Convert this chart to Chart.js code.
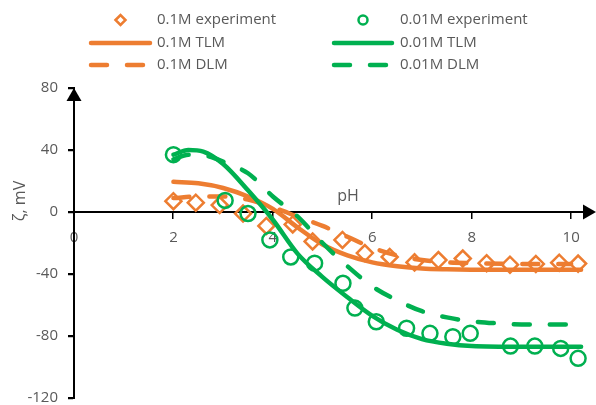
<!DOCTYPE html>
<html>
<head>
<meta charset="utf-8">
<script src="https://cdn.jsdelivr.net/npm/chart.js@4.4.1/dist/chart.umd.min.js"></script>
<style>
  html, body { margin: 0; padding: 0; background: #ffffff; }
  #wrap { width: 596px; height: 405px; }
</style>
</head>
<body>
<div id="wrap"><canvas id="c" width="596" height="405"></canvas></div>
<script>
// Zeta potential vs pH at two ionic strengths, measured points plus TLM / DLM model curves

// 0.1M electrolyte, measured
const pH_01_exp   = [2.0, 2.45, 2.93, 3.4, 3.87, 4.4, 4.8, 5.4, 5.85, 6.35, 6.85, 7.33, 7.82, 8.3, 8.77, 9.29, 9.76, 10.14];
const zeta_01_exp = [7, 6, 4.5, -1, -9, -8, -19, -18, -26.5, -29, -32.5, -31, -30, -33, -34, -33.5, -32.7, -33.3];

// 0.01M electrolyte, measured
const pH_001_exp   = [2.0, 3.04, 3.5, 3.94, 4.36, 4.84, 5.41, 5.65, 6.08, 6.69, 7.16, 7.62, 7.97, 8.78, 9.27, 9.79, 10.14];
const zeta_001_exp = [37, 7.5, -1, -18, -29, -33, -46, -62, -70.8, -75, -78.3, -80.5, -78.3, -86.5, -86.5, -88, -94.4];

// 0.1M triple-layer model
const pH_01_tlm   = [2, 2.5, 3, 3.5, 4, 4.5, 5, 5.5, 6, 6.5, 7, 7.5, 8, 9, 10.2];
const zeta_01_tlm = [19.5, 18.5, 15.5, 10, 2, -10, -21, -28, -32.5, -35, -36.5, -37, -37.2, -37.3, -37.3];

// 0.1M diffuse-layer model
const pH_01_dlm   = [2, 2.5, 3, 3.5, 4, 4.5, 5, 5.5, 6, 6.5, 7, 7.5, 8, 9, 10];
const zeta_01_dlm = [9, 10, 10, 8, 3, -3, -9, -16, -23, -28, -31, -32.5, -33, -33.5, -33.5];

// 0.01M triple-layer model
const pH_001_tlm   = [2, 2.3, 2.6, 3, 3.5, 4, 4.5, 5, 5.5, 6, 6.5, 7, 7.5, 8, 9, 10.2];
const zeta_001_tlm = [37, 40, 39, 31, 14, -5, -27, -42, -55, -67, -76, -82, -85, -86.5, -87, -87];

// 0.01M diffuse-layer model
const pH_001_dlm   = [2, 2.3, 2.7, 3.1, 3.5, 4, 4.5, 5, 5.5, 6, 6.5, 7, 7.5, 8, 8.5, 9, 10];
const zeta_001_dlm = [34, 37, 36, 31, 25, 10, -3, -20, -35, -48, -57, -64, -68, -70.5, -71.8, -72.5, -72.5];

const xTicks = [0, 2, 4, 6, 8, 10];
const yTicks = [-120, -80, -40, 0, 40, 80];

const ORANGE = '#ED7D31';
const GREEN = '#00B050';
const TEXT = '#595959';
const FONT = "'Open Sans', 'Noto Sans', sans-serif";
const CLEAR = 'rgba(0,0,0,0)';

const pts = (xs, ys) => xs.map((x, i) => ({ x: x, y: ys[i] }));

const markerSet = (label, xs, ys, color, style, r, order) => ({
  label, data: pts(xs, ys), showLine: false, order,
  pointStyle: style, pointRadius: r, pointHoverRadius: r,
  pointBorderWidth: 2.5, pointBorderColor: color, pointBackgroundColor: CLEAR,
  borderColor: color, backgroundColor: CLEAR
});

const lineSet = (label, xs, ys, color, dash, order) => ({
  label, data: pts(xs, ys), showLine: true, order,
  borderColor: color, backgroundColor: color, borderWidth: 4.5,
  borderDash: dash, borderCapStyle: 'round', borderJoinStyle: 'round',
  cubicInterpolationMode: 'monotone', pointRadius: 0, pointHoverRadius: 0, fill: false
});

const datasets = [
  markerSet('0.1M experiment', pH_01_exp, zeta_01_exp, ORANGE, 'rectRot', 8, 3),
  markerSet('0.01M experiment', pH_001_exp, zeta_001_exp, GREEN, 'circle', 7.5, 0),
  lineSet('0.1M TLM', pH_01_tlm, zeta_01_tlm, ORANGE, [], 4),
  lineSet('0.01M TLM', pH_001_tlm, zeta_001_tlm, GREEN, [], 1),
  lineSet('0.1M DLM', pH_01_dlm, zeta_01_dlm, ORANGE, [16, 20], 5),
  lineSet('0.01M DLM', pH_001_dlm, zeta_001_dlm, GREEN, [16, 20], 2)
];

// pH axis line, its tick marks and both arrow heads
const crossingAxes = {
  id: 'crossingAxes',
  beforeDatasetsDraw(chart) {
    const ctx = chart.ctx;
    const xs = chart.scales.x, ys = chart.scales.y, ca = chart.chartArea;
    const x0 = Math.round(xs.getPixelForValue(0));
    const y0 = Math.round(ys.getPixelForValue(0));
    const yTop = Math.round(ys.getPixelForValue(80));
    ctx.save();
    ctx.fillStyle = '#000';
    ctx.fillRect(ca.left, y0 - 1, ca.right - 8 - ca.left, 2);
    xTicks.forEach(v => {
      const px = Math.round(xs.getPixelForValue(v));
      ctx.fillRect(px - 1, y0, 1.5, 7);
    });
    ctx.beginPath();
    ctx.moveTo(ca.right, y0);
    ctx.lineTo(ca.right - 13, y0 - 7.5);
    ctx.lineTo(ca.right - 13, y0 + 7.5);
    ctx.closePath();
    ctx.fill();
    ctx.beginPath();
    ctx.moveTo(x0, yTop);
    ctx.lineTo(x0 - 7.5, yTop + 13);
    ctx.lineTo(x0 + 7.5, yTop + 13);
    ctx.closePath();
    ctx.fill();
    ctx.restore();
  }
};

// Zeta axis line drawn once more on top, then axis titles and the two-column legend
const overlay = {
  id: 'overlay',
  afterDraw(chart) {
    const ctx = chart.ctx;
    const xs = chart.scales.x, ys = chart.scales.y;
    const x0 = Math.round(xs.getPixelForValue(0));
    const yTop = Math.round(ys.getPixelForValue(80));
    const yBottom = Math.round(ys.getPixelForValue(-120));
    ctx.save();
    ctx.globalCompositeOperation = 'source-over';
    ctx.globalAlpha = 1;
    ctx.fillStyle = '#000000';
    ctx.fillRect(x0 - 1, yTop + 10, 2, yBottom - yTop - 10);
    yTicks.forEach(v => {
      const py = Math.round(ys.getPixelForValue(v));
      ctx.fillRect(x0 - 6, py - 1, 6, 2);
    });

    ctx.fillStyle = TEXT;
    ctx.font = '16px ' + FONT;
    ctx.textAlign = 'center';
    ctx.textBaseline = 'middle';
    ctx.fillText('pH', 348, 196);
    ctx.save();
    ctx.translate(20, 201);
    ctx.rotate(-Math.PI / 2);
    ctx.fillText('\u03B6, mV', 0, 0);
    ctx.restore();

    const cols = [{ x1: 89, x2: 152, tx: 157 }, { x1: 332, x2: 394, tx: 400 }];
    const rows = [20, 43, 65];
    const layout = [[0, 1], [2, 3], [4, 5]];
    layout.forEach((pair, r) => {
      pair.forEach((di, c) => {
        const ds = chart.data.datasets[di];
        const col = cols[c], y = rows[r];
        if (ds.showLine) {
          ctx.save();
          ctx.strokeStyle = ds.borderColor;
          ctx.lineWidth = ds.borderWidth;
          ctx.lineCap = 'round';
          ctx.setLineDash(ds.borderDash);
          ctx.beginPath();
          ctx.moveTo(col.x1 + 2, y);
          ctx.lineTo(col.x2 - 2, y);
          ctx.stroke();
          ctx.restore();
        } else {
          ctx.save();
          ctx.strokeStyle = ds.pointBorderColor;
          ctx.lineWidth = 2.5;
          ctx.setLineDash([]);
          ctx.beginPath();
          const cx = (col.x1 + col.x2) / 2;
          if (ds.pointStyle === 'circle') {
            ctx.arc(cx, y, 4.5, 0, Math.PI * 2);
          } else {
            ctx.moveTo(cx - 5, y);
            ctx.lineTo(cx, y - 5);
            ctx.lineTo(cx + 5, y);
            ctx.lineTo(cx, y + 5);
            ctx.closePath();
          }
          ctx.stroke();
          ctx.restore();
        }
        ctx.fillStyle = TEXT;
        ctx.font = '15px ' + FONT;
        ctx.textAlign = 'left';
        ctx.textBaseline = 'middle';
        ctx.fillText(ds.label, col.tx, y);
      });
    });
    ctx.restore();
  }
};

const noPad = (s) => { s.paddingLeft = 0; s.paddingRight = 0; s.paddingTop = 0; s.paddingBottom = 0; };

new Chart(document.getElementById('c'), {
  type: 'scatter',
  data: { datasets },
  plugins: [crossingAxes, overlay],
  options: {
    responsive: false,
    animation: false,
    devicePixelRatio: 1,
    layout: { autoPadding: false, padding: { left: 0, right: 0, top: 88, bottom: 7 } },
    plugins: { legend: { display: false }, tooltip: { enabled: false } },
    scales: {
      x: {
        type: 'linear', min: 0, max: 10.5, position: { y: 0 },
        afterBuildTicks: (s) => { s.ticks = xTicks.map(v => ({ value: v })); },
        afterFit: noPad,
        ticks: { color: TEXT, font: { family: FONT, size: 15 }, padding: 11, maxRotation: 0 },
        grid: { drawOnChartArea: false, drawTicks: true, tickLength: 6, tickColor: CLEAR },
        border: { color: CLEAR, width: 2 }
      },
      // data scale: crosses at pH 0 and draws the axis line and tick marks
      y: {
        type: 'linear', min: -120, max: 80, position: { x: 0 },
        afterBuildTicks: (s) => { s.ticks = yTicks.map(v => ({ value: v })); },
        afterFit: noPad,
        ticks: { display: false },
        grid: { drawOnChartArea: false, drawTicks: true, tickLength: 5, tickColor: '#000', tickWidth: 1.5 },
        border: { color: '#000', width: 2 }
      },
      // same range on the left edge, carrying the tick labels
      yLabels: {
        type: 'linear', min: -120, max: 80, position: 'left',
        afterBuildTicks: (s) => { s.ticks = yTicks.map(v => ({ value: v })); },
        afterFit: (s) => { noPad(s); s.width = 74; },
        ticks: { color: TEXT, font: { family: FONT, size: 15 }, padding: 11 },
        grid: { drawOnChartArea: false, drawTicks: true, tickLength: 5, tickColor: CLEAR },
        border: { color: CLEAR, width: 2 }
      }
    }
  }
});
</script>
</body>
</html>
